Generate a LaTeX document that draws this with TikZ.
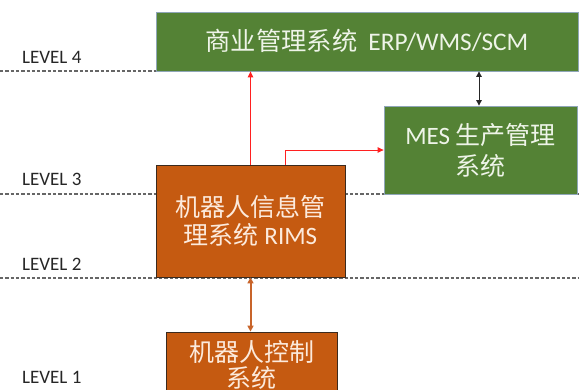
\documentclass[tikz,border=0pt]{standalone}
\usepackage{fontspec}
\setmainfont{Carlito}
\newfontfamily\cjk{Noto Sans CJK SC}
\usetikzlibrary{arrows.meta}

\definecolor{boxgreen}{HTML}{548235}
\definecolor{boxorange}{HTML}{C55A11}
\definecolor{greentext}{HTML}{EEF4E8}
\definecolor{orangetext}{HTML}{FCEADC}
\definecolor{greenedge}{HTML}{8FA6B8}
\definecolor{orangeedge}{HTML}{3A2A1E}
\definecolor{dashgrey}{HTML}{666666}
\definecolor{linkred}{HTML}{FF2020}
\definecolor{linkorange}{HTML}{C8642A}

\begin{document}
\begin{tikzpicture}[x=1pt,y=-1pt,
  levelline/.style={draw=dashgrey, line width=1.1pt, dash pattern=on 3.3pt off 2pt},
  levellabel/.style={anchor=base west, inner sep=0pt, text=black!85,
    font=\fontsize{19}{22}\selectfont},
  greenbox/.style={fill=boxgreen, draw=greenedge, line width=0.8pt,
    text=greentext, align=center, inner sep=0pt},
  orangebox/.style={fill=boxorange, draw=orangeedge, line width=0.8pt,
    text=orangetext, align=center, inner sep=0pt},
  redlink/.style={draw=linkred, line width=0.9pt,
    -{Triangle[length=6pt,width=5.5pt]}},
  blacklink/.style={draw=black!85, line width=0.9pt,
    {Triangle[length=5.5pt,width=5.5pt]}-{Triangle[length=5.5pt,width=5.5pt]}},
  orangelink/.style={draw=linkorange, line width=2pt,
    {Triangle[length=6pt,width=6pt]}-{Triangle[length=6pt,width=6pt]}}
]
\useasboundingbox (0,0) rectangle (579,389);
\clip (0,0) rectangle (579,389);

% level separators
\draw[levelline] (0,71) -- (579,71);
\draw[levelline] (0,194) -- (579,194);
\draw[levelline] (0,278) -- (579,278);

% level labels
\node[levellabel] (lv4) at (22,63) {LEVEL 4};
\node[levellabel] (lv3) at (22,185) {LEVEL 3};
\node[levellabel] (lv2) at (22,270) {LEVEL 2};
\node[levellabel] (lv1) at (22,383) {LEVEL 1};

% system boxes
\node[greenbox, minimum width=422pt, minimum height=59pt,
  text height=17pt, text depth=0pt,
  font=\fontsize{25.3}{28}\selectfont] (erp) at (367,41.5)
  {{\cjk 商业管理系统}\hspace{11pt}ERP/WMS/SCM};
\node[greenbox, minimum width=193pt, minimum height=88pt,
  font=\fontsize{25}{31}\selectfont] (mes) at (480.5,150)
  {MES {\cjk 生产管理}\\{\cjk 系统}};
\node[orangebox, minimum width=189pt, minimum height=112pt,
  font=\fontsize{25}{28}\selectfont] (rims) at (250.5,221)
  {{\cjk 机器人信息管}\\{\cjk 理系统} RIMS};
\node[orangebox, minimum width=171pt, minimum height=66pt,
  font=\fontsize{25}{26}\selectfont] (ctrl) at (251.5,365)
  {{\cjk 机器人控制}\\{\cjk 系统}};

% connectors
\draw[redlink] (rims.north) -- (rims.north |- erp.south);
\draw[redlink] ([xshift=34.5pt]rims.north) |- (mes.west);
\draw[blacklink] ([xshift=-1.5pt]mes.north |- erp.south) -- ([xshift=-1.5pt]mes.north);
\draw[orangelink] (rims.south) -- (rims.south |- ctrl.north);
\end{tikzpicture}
\end{document}
